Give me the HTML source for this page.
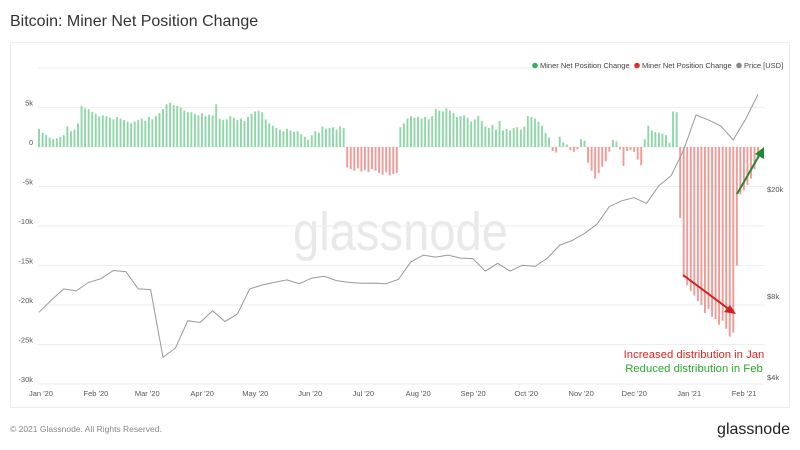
<!DOCTYPE html>
<html><head><meta charset="utf-8"><style>
body{margin:0;background:#fff;font-family:"Liberation Sans",sans-serif;}
svg text{font-family:"Liberation Sans",sans-serif;}
</style></head><body>
<svg id="c" width="800" height="445" viewBox="0 0 800 445" xmlns="http://www.w3.org/2000/svg">
<text x="10" y="26" font-size="16" fill="#333">Bitcoin: Miner Net Position Change</text>
<rect x="10.5" y="42.5" width="779" height="365" fill="none" stroke="#eee"/>
<text x="293" y="250" font-size="54" fill="#e9e9e9" textLength="215" lengthAdjust="spacingAndGlyphs">glassnode</text>
<g id="grid"></g>
<g id="bars"></g>
<g id="price"></g>
<g id="axes"></g>
<g>
 <g><circle cx="535" cy="65.5" r="2.8" fill="#2db35d"/><text x="540" y="68" font-size="7.5" fill="#444">Miner Net Position Change</text></g>
 <g><circle cx="637" cy="65.5" r="2.8" fill="#d9302c"/><text x="642" y="68" font-size="7.5" fill="#444">Miner Net Position Change</text></g>
 <g><circle cx="739" cy="65.5" r="2.8" fill="#888"/><text x="744" y="68" font-size="7.5" fill="#444">Price [USD]</text></g>
</g>
<g>
 <line x1="683" y1="275" x2="730" y2="310" stroke="#d21f1f" stroke-width="2"/>
 <polygon points="736,314 724,312 730,305" fill="#d21f1f"/>
</g>
<g>
 <line x1="737" y1="194" x2="760" y2="154" stroke="#1f8a2e" stroke-width="2"/>
 <polygon points="764,147 764,159 755,154" fill="#1f8a2e"/>
</g>
<text x="694" y="358" font-size="11.3" fill="#e8231f" text-anchor="middle">Increased distribution in Jan</text>
<text x="694" y="372" font-size="11.3" fill="#2ea82e" text-anchor="middle">Reduced distribution in Feb</text>
<text x="10" y="432" font-size="8.5" fill="#888">© 2021 Glassnode. All Rights Reserved.</text>
<text x="790" y="434" font-size="16" fill="#222" text-anchor="end">glassnode</text>
</svg>
<script>
// net position change, 2-day steps starting Jan 1 2020 (thousands BTC)
const netChange=[2.3,1.8,1.5,1.2,1.0,1.1,1.3,1.5,2.6,2.0,2.2,3.0,5.2,4.9,4.8,4.4,4.2,3.9,4.0,3.9,3.7,3.5,3.8,3.6,3.4,3.2,3.0,3.2,3.4,3.6,3.3,3.8,3.5,3.9,4.3,4.8,5.4,5.6,5.3,5.2,5.0,4.6,4.4,4.4,4.2,4.0,4.3,3.9,4.1,4.0,5.4,3.6,3.4,3.5,3.9,3.7,3.4,3.6,3.3,3.8,4.2,4.5,4.6,4.4,3.5,3.0,2.7,2.4,2.2,2.0,2.3,2.1,1.9,2.0,1.6,1.3,0.9,1.5,2.0,1.8,2.6,2.3,2.4,2.5,2.2,2.6,2.4,
-2.6,-2.8,-3.0,-2.7,-3.1,-2.9,-3.2,-2.8,-3.0,-3.3,-3.5,-3.2,-3.6,-3.4,-3.3,
2.5,3.0,3.6,3.9,3.7,3.8,3.6,3.8,3.5,3.9,4.8,4.6,4.5,4.9,4.6,4.3,3.8,3.9,4.0,3.7,3.2,3.5,3.9,3.3,2.6,2.4,2.8,2.2,3.3,2.1,2.3,2.1,2.4,2.5,2.2,2.6,3.9,3.8,3.6,3.2,2.7,1.8,1.2,
-0.5,-0.7,1.3,0.6,0.3,-0.4,-0.6,-0.3,1.0,0.8,-2.0,-3.0,-4.0,-3.3,-2.5,-1.8,-0.6,0.9,0.7,-0.3,-2.4,-0.5,-0.4,-0.6,-1.6,-2.3,
1.0,2.7,2.1,1.9,1.8,1.7,1.5,0.5,4.5,4.4,
-9.0,-16.5,-17.5,-18.2,-18.8,-19.5,-20.0,-21.0,-20.5,-21.5,-21.8,-22.5,-22.0,-23.0,-24.0,-23.5,-15.0,-6.0,-5.5,-4.8,-4.0,-2.8,-1.2];
const netStepDays=2;
// weekly BTC price (USD) from Jan 1 2020
const prices=[7200,8000,8800,8650,9300,9600,10300,10200,8800,8750,4900,5300,6700,6600,7300,6650,7100,8800,9100,9300,9500,9200,9650,9800,9450,9300,9230,9250,9200,9550,11100,11750,11550,11750,11450,11400,10250,10950,10250,10780,10670,11430,12800,13300,14150,15300,17800,18700,19200,18300,21300,23200,28900,39000,37400,35500,31500,37600,46500];
const priceStepDays=7;
const leftTicks=[5,0,-5,-10,-15,-20,-25,-30];
const leftTickLabels=["5k","0","-5k","-10k","-15k","-20k","-25k","-30k"];
const rightTicks=[20000,8000,4000];
const rightTickLabels=["$20k","$8k","$4k"];
const monthDays=[0,31,60,91,121,152,182,213,244,274,305,335,366,397];
const monthLabels=["Jan '20","Feb '20","Mar '20","Apr '20","May '20","Jun '20","Jul '20","Aug '20","Sep '20","Oct '20","Nov '20","Dec '20","Jan '21","Feb '21"];

const NS="http://www.w3.org/2000/svg";
const X=d=>39+d*1.771;
const Y=v=>147-v*7.9;
const YP=p=>381-269*Math.log10(p/4000);
function mk(tag,attrs,parent){const e=document.createElementNS(NS,tag);for(const k in attrs)e.setAttribute(k,attrs[k]);parent.appendChild(e);return e;}
const grid=document.getElementById('grid'),bars=document.getElementById('bars'),pr=document.getElementById('price'),axes=document.getElementById('axes');
[10].concat(leftTicks).forEach(v=>{const l=mk('line',{x1:38,x2:765,y1:Y(v),y2:Y(v),stroke:'#eeeeee','stroke-width':1},grid);

});
leftTicks.forEach((v,i)=>{const t=mk('text',{x:33,y:Y(v)-2,'font-size':7.5,fill:'#555','text-anchor':'end'},axes);t.textContent=leftTickLabels[i];

});
rightTicks.forEach((v,i)=>{const t=mk('text',{x:767,y:YP(v)-1,'font-size':7.5,fill:'#555'},axes);t.textContent=rightTickLabels[i];

});
monthDays.forEach((d,i)=>{const t=mk('text',{x:X(d)+2,y:396,'font-size':7.5,fill:'#555','text-anchor':'middle'},axes);t.textContent=monthLabels[i];

});
netChange.forEach((v,i)=>{const x=X(i*netStepDays);const y0=Y(0),y1=Y(v);
const r=mk('rect',{x:x-0.9,y:Math.min(y0,y1),width:1.9,height:Math.max(0.5,Math.abs(y1-y0)),fill:v>=0?'#8fd7a8':'#f29a96'},bars);

});
const pts=prices.map((p,i)=>X(i*priceStepDays).toFixed(1)+','+YP(p).toFixed(1)).join(' ');
const pl=mk('polyline',{points:pts,fill:'none',stroke:'#999','stroke-width':1},pr);


</script>
</body></html>
